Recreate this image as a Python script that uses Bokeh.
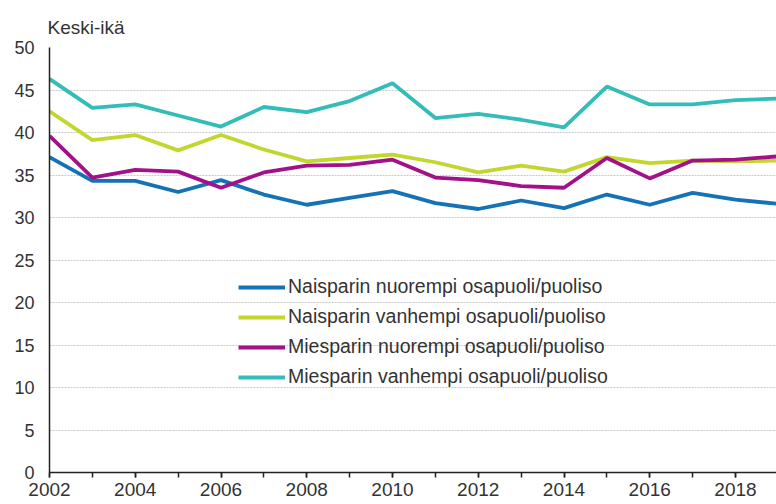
from bokeh.plotting import figure
from bokeh.models import Range1d, SingleIntervalTicker, Legend, LegendItem, Title
from bokeh.embed import file_html
from bokeh.resources import INLINE

years = list(range(2002, 2020))
nais_nuorempi = [37.1, 34.3, 34.3, 33.0, 34.4, 32.7, 31.5, 32.3, 33.1, 31.7, 31.0, 32.0, 31.1, 32.7, 31.5, 32.9, 32.1, 31.6]
nais_vanhempi = [42.5, 39.1, 39.7, 37.9, 39.7, 38.0, 36.6, 37.0, 37.4, 36.5, 35.3, 36.1, 35.4, 37.1, 36.4, 36.7, 36.6, 36.7]
mies_nuorempi = [39.6, 34.7, 35.6, 35.4, 33.5, 35.3, 36.1, 36.2, 36.8, 34.7, 34.4, 33.7, 33.5, 37.0, 34.6, 36.7, 36.8, 37.2]
mies_vanhempi = [46.3, 42.9, 43.3, 42.0, 40.7, 43.0, 42.4, 43.7, 45.8, 41.7, 42.2, 41.5, 40.6, 45.4, 43.3, 43.3, 43.8, 44.0]

series_labels = [
    "Naisparin nuorempi osapuoli/puoliso",
    "Naisparin vanhempi osapuoli/puoliso",
    "Miesparin nuorempi osapuoli/puoliso",
    "Miesparin vanhempi osapuoli/puoliso",
]
series_values = [nais_nuorempi, nais_vanhempi, mies_nuorempi, mies_vanhempi]
colors = ["#1572B6", "#C2D62E", "#A2118A", "#33BDB9"]

y_title = "Keski-ikä"
FONT = "Liberation Sans"

p = figure(width=776, height=504, output_backend="svg", toolbar_location=None, title=None,
           x_range=Range1d(2002, 2002 + 727 / 42.875), y_range=Range1d(0, 50),
           min_border_left=49, min_border_right=0, min_border_top=47, min_border_bottom=32)

# spacer closest to the frame, then the title text above it
p.add_layout(Title(text=" ", text_font_size="3px", standoff=0), "above")
p.add_layout(Title(text=y_title, align="left", offset=-2, text_font=FONT,
                   text_font_size="19px", text_font_style="normal",
                   text_color="#333333"), "above")

p.outline_line_color = None
p.background_fill_color = "white"

p.xaxis.ticker = SingleIntervalTicker(interval=2, num_minor_ticks=2)
p.yaxis.ticker = SingleIntervalTicker(interval=5, num_minor_ticks=0)

for ax in (p.xaxis, p.yaxis):
    ax.axis_line_color = "#222222"
    ax.axis_line_width = 1.5
    ax.major_label_text_font = FONT
    ax.major_label_text_color = "#333333"

p.xaxis.major_label_text_font_size = "19px"
p.yaxis.major_label_text_font_size = "18px"

p.xaxis.major_tick_out = 5
p.xaxis.major_tick_in = 0
p.xaxis.minor_tick_out = 5
p.xaxis.minor_tick_in = 0
p.xaxis.major_tick_line_color = "#222222"
p.xaxis.minor_tick_line_color = "#222222"
p.xaxis.major_tick_line_width = 1.5
p.xaxis.minor_tick_line_width = 1.5
p.xaxis.major_label_standoff = 5

p.yaxis.major_tick_line_color = None
p.yaxis.minor_tick_line_color = None
p.yaxis.major_tick_out = 0
p.yaxis.major_tick_in = 0
p.yaxis.major_label_standoff = 15

p.xgrid.grid_line_color = None
p.ygrid.grid_line_color = "#c8c8c8"
p.ygrid.grid_line_dash = "2 1"
p.ygrid.grid_line_width = 1

items = []
for lab, vals, col in zip(series_labels, series_values, colors):
    r = p.line(years, vals, line_color=col, line_width=3.8)
    items.append(LegendItem(label=lab, renderers=[r]))

legend = Legend(items=items, location=(189, 84), orientation="vertical",
                background_fill_alpha=0, border_line_alpha=0,
                glyph_width=47, glyph_height=20, label_height=20,
                label_standoff=3, spacing=7, padding=0, margin=0,
                label_text_font=FONT, label_text_font_size="19.5px",
                label_text_color="#333333")
p.add_layout(legend)

open("out.html", "w").write(file_html(p, INLINE))
